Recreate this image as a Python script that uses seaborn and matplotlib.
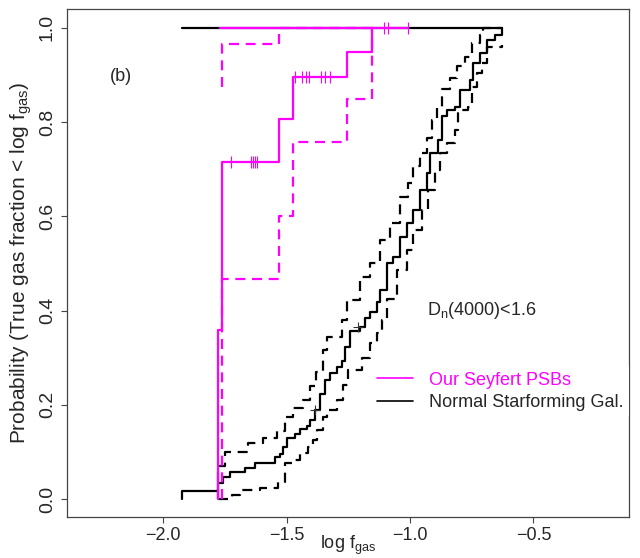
import matplotlib
matplotlib.use("Agg")
import matplotlib.pyplot as plt
from matplotlib.lines import Line2D
import seaborn as sns

# Seyfert PSBs (magenta), step corners: x = log f_gas, y = value after the step
psb_x = [-1.776, -1.776, -1.762, -1.529, -1.475, -1.254, -1.154, -1.007]
psb_y = [0.0, 0.359, 0.716, 0.807, 0.895, 0.948, 1.0, 1.0]
psb_lo_x = [-1.762, -1.762, -1.529, -1.475, -1.254, -1.154, -1.154]
psb_lo_y = [0.0, 0.467, 0.600, 0.757, 0.849, 1.0, 1.0]
psb_hi_x = [-1.762, -1.762, -1.529, -1.154]
psb_hi_y = [0.875, 0.965, 1.0, 1.0]
psb_top_x = [-1.770, -1.154]
psb_top_y = [1.0, 1.0]
psb_cens_x = [-1.726, -1.645, -1.637, -1.629, -1.621,
              -1.467, -1.439, -1.423, -1.407, -1.362, -1.346, -1.324,
              -1.105, -1.089, -1.007]
psb_cens_y = [0.716] * 5 + [0.895] * 7 + [1.0] * 3

# Normal star-forming galaxies (black)
sf_x = [-1.924, -1.924, -1.776, -1.756, -1.729, -1.668, -1.628, -1.547, -1.526,
        -1.513, -1.500, -1.466, -1.445, -1.418, -1.405, -1.385, -1.364, -1.344,
        -1.324, -1.297, -1.277, -1.263, -1.243, -1.202, -1.182, -1.162, -1.135,
        -1.121, -1.094, -1.068, -1.040, -1.013, -0.987, -0.960, -0.932, -0.919,
        -0.885, -0.872, -0.851, -0.818, -0.798, -0.757, -0.744, -0.717, -0.690,
        -0.656, -0.629]
sf_y = [0.0, 0.018, 0.035, 0.047, 0.057, 0.065, 0.077, 0.090, 0.096,
        0.111, 0.130, 0.139, 0.148, 0.156, 0.168, 0.189, 0.224, 0.253,
        0.268, 0.281, 0.292, 0.323, 0.357, 0.366, 0.384, 0.398, 0.419,
        0.444, 0.500, 0.514, 0.557, 0.585, 0.614, 0.656, 0.692, 0.734,
        0.762, 0.812, 0.826, 0.833, 0.868, 0.890, 0.925, 0.946, 0.975,
        0.985, 1.0]
sf_hi_x = [-1.776, -1.776, -1.749, -1.655, -1.594, -1.540, -1.506, -1.472, -1.432,
           -1.405, -1.380, -1.351, -1.337, -1.277, -1.256, -1.202, -1.162, -1.121,
           -1.081, -1.040, -1.007, -0.987, -0.960, -0.932, -0.912, -0.892, -0.872,
           -0.838, -0.811, -0.777, -0.750, -0.717, -0.704, -0.629]
sf_hi_y = [0.0, 0.071, 0.100, 0.118, 0.130, 0.144, 0.175, 0.193, 0.210,
           0.240, 0.270, 0.316, 0.345, 0.380, 0.422, 0.472, 0.500, 0.550,
           0.585, 0.642, 0.670, 0.706, 0.734, 0.767, 0.805, 0.833, 0.870,
           0.893, 0.918, 0.939, 0.968, 0.985, 1.0, 1.0]
sf_lo_x = [-1.776, -1.722, -1.688, -1.607, -1.533, -1.506, -1.466, -1.445, -1.411,
           -1.391, -1.378, -1.351, -1.337, -1.297, -1.270, -1.250, -1.196, -1.162,
           -1.135, -1.115, -1.094, -1.054, -1.013, -0.987, -0.953, -0.926, -0.899,
           -0.879, -0.851, -0.818, -0.804, -0.764, -0.750, -0.730, -0.710, -0.690,
           -0.629]
sf_lo_y = [0.0, 0.008, 0.019, 0.023, 0.037, 0.076, 0.083, 0.097, 0.111,
           0.125, 0.146, 0.175, 0.189, 0.210, 0.242, 0.274, 0.299, 0.331,
           0.352, 0.380, 0.425, 0.486, 0.529, 0.571, 0.614, 0.656, 0.699,
           0.734, 0.755, 0.783, 0.826, 0.833, 0.875, 0.904, 0.925, 0.960,
           0.964]
sf_top_x = [-1.924, -0.629]
sf_top_y = [1.0, 1.0]
sf_cens_x = [-1.385, -1.210]
sf_cens_y = [0.189, 0.366]

MAG = "#ff00ff"
DASH = (0, (4.5, 3))
FS = 13

sns.set_theme(style="ticks")
plt.rcParams["font.family"] = ["Liberation Sans", "DejaVu Sans"]
plt.rcParams["mathtext.fontset"] = "custom"
plt.rcParams["mathtext.rm"] = "Liberation Sans"
plt.rcParams["mathtext.it"] = "Liberation Sans:italic"

fig = plt.figure(figsize=(6.4, 5.58), dpi=100)
ax = fig.add_axes([67 / 640, 1 - 517 / 558, 562 / 640, 508 / 558])


def step(x, y, color, ls="-"):
    sns.lineplot(x=x, y=y, ax=ax, color=color, lw=1.6, linestyle=ls,
                 drawstyle="steps-post", estimator=None, sort=False)


step(sf_top_x, sf_top_y, "black")
step(sf_hi_x, sf_hi_y, "black", DASH)
step(sf_lo_x, sf_lo_y, "black", DASH)
step(sf_x, sf_y, "black")
ax.plot(sf_cens_x, sf_cens_y, ls="none", marker="+", ms=7, mew=0.8, color="#333333")

step(psb_top_x, psb_top_y, MAG)
step(psb_hi_x, psb_hi_y, MAG, DASH)
step(psb_lo_x, psb_lo_y, MAG, DASH)
step(psb_x, psb_y, MAG)
ax.plot(psb_cens_x, psb_cens_y, ls="none", marker="|", ms=8, mew=0.8, color=MAG)

ax.set_xlim(-2.389, -0.113)
ax.set_ylim(-0.038, 1.040)
ax.set_xticks([-2.0, -1.5, -1.0, -0.5])
ax.set_xticklabels(["\u22122.0", "\u22121.5", "\u22121.0", "\u22120.5"])
ax.set_yticks([0.0, 0.2, 0.4, 0.6, 0.8, 1.0])
ax.set_yticklabels(["0.0", "0.2", "0.4", "0.6", "0.8", "1.0"], rotation=90, va="center")
ax.tick_params(axis="both", length=4, width=0.8, color="#444444")
ax.tick_params(axis="x", pad=3, labelsize=FS)
ax.tick_params(axis="y", pad=4, labelsize=14)
for s in ax.spines.values():
    s.set_color("#444444")
    s.set_linewidth(0.9)
    s.set_visible(True)

ax.set_xlabel(r"log f$_{\mathrm{gas}}$", fontsize=FS)
ax.xaxis.set_label_coords(0.5, -0.033)
ax.set_ylabel(r"Probability (True gas fraction < log f$_{\mathrm{gas}}$)", fontsize=15)
ax.yaxis.set_label_coords(-0.058, 0.5)

ax.text(-2.17, 0.896, "(b)", fontsize=FS, ha="center", va="center")
ax.text(-0.932, 0.40, r"D$_{\mathrm{n}}$(4000)<1.6", fontsize=FS, ha="left", va="center")

handles = [Line2D([], [], color=MAG, lw=1.2), Line2D([], [], color="black", lw=1.2)]
leg = ax.legend(handles, ["Our Seyfert PSBs", "Normal Starforming Gal."],
                loc="center left", bbox_to_anchor=(0.542, 0.2475), fontsize=FS,
                frameon=True, facecolor="white", edgecolor="none", framealpha=1,
                handlelength=2.0, handletextpad=0.9, labelspacing=0.3,
                borderpad=0.3, borderaxespad=0, fancybox=False)
leg.get_texts()[0].set_color(MAG)
leg.set_clip_on(False)

fig.savefig("out.png", dpi=100)
